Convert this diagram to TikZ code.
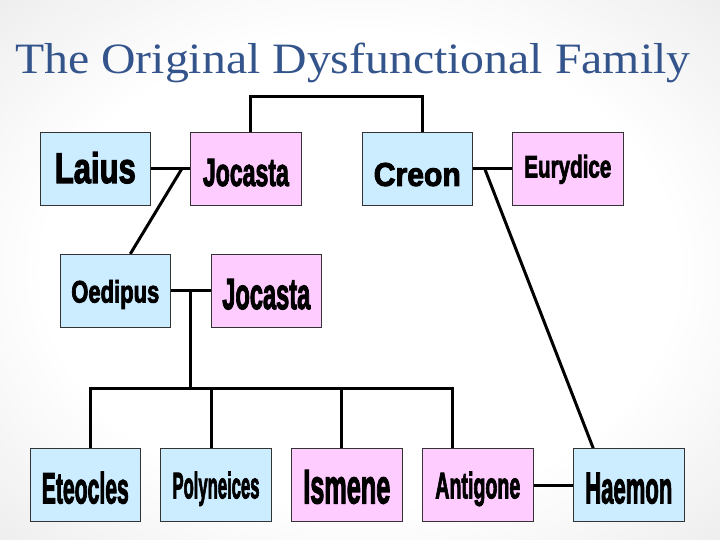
\documentclass[tikz,border=0pt]{standalone}
\usepackage{fontspec}
\usepackage{graphicx}
\setmainfont{Liberation Serif}
\newfontfamily\boxfont{Liberation Sans}[FakeBold=3]
\usetikzlibrary{calc}
\definecolor{bluebox}{RGB}{204,236,255}
\definecolor{pinkbox}{RGB}{255,204,255}
\definecolor{titleblue}{RGB}{52,84,140}
\pgfdeclareradialshading{slidebg}{\pgfpoint{0bp}{0bp}}{color(0bp)=(white); color(22bp)=(white); color(50bp)=(black!14); color(72bp)=(black!17)}
\pgfdeclarelayer{bg}
\pgfdeclarelayer{edges}
\pgfsetlayers{bg,edges,main}
\newcommand{\fitname}[3]{\resizebox{#1pt}{#2pt}{\boxfont\bfseries #3}}
\tikzset{
  person/.style={draw=black!80, line width=0.8pt, minimum width=110.5pt, minimum height=73pt, inner sep=0pt, text depth=0pt},
  male/.style={person, fill=bluebox},
  female/.style={person, fill=pinkbox},
  link/.style={line width=3pt, draw=black}
}
\begin{document}
\begin{tikzpicture}[x=1pt,y=-1pt]
\useasboundingbox (0,0) rectangle (720,540);
\begin{pgfonlayer}{bg}
\shade[shading=slidebg] (0,0) rectangle (720,540);
\end{pgfonlayer}

\node[anchor=base west, text=titleblue, inner sep=0pt] (title) at (15,73.3)
  {\resizebox{675pt}{30.5pt}{The Original Dysfunctional Family}};

% top row
\node[male,   text height=29pt]   (laius) at (95.3,168.5)  {\fitname{81}{31}{Laius}};
\node[female, text height=34.8pt] (joc1)  at (245.9,168.5) {\fitname{86}{27}{Jocasta}};
\node[male,   text height=34.8pt] (creon) at (417.3,168.5) {\fitname{87}{23}{Creon}};
\node[female, text height=17.8pt, minimum width=111pt] (eury) at (567.8,168.5) {\fitname{87}{22.5}{Eurydice}};
% middle row
\node[male,   text height=23.4pt] (oedipus) at (115.3,290.8) {\fitname{88}{22.5}{Oedipus}};
\node[female, text height=36.4pt] (joc2)    at (266.3,290.8) {\fitname{88}{30}{Jocasta}};
% bottom row
\node[male,   text height=36pt] (eteocles)   at (85.3,485.3)  {\fitname{87}{31.6}{Eteocles}};
\node[male,   text height=26pt] (polyneices) at (216,485.3)   {\fitname{87}{26.7}{Polyneices}};
\node[female, text height=36pt] (ismene)     at (346.8,485.3) {\fitname{87}{33.3}{Ismene}};
\node[female, text height=26pt] (antigone)   at (477.8,485.3) {\fitname{85}{26.7}{Antigone}};
\node[male,   text height=36pt] (haemon)     at (628.8,485.3) {\fitname{87}{30.6}{Haemon}};

\begin{pgfonlayer}{edges}
% Laius & Jocasta, Creon & Eurydice, siblings Jocasta & Creon
\draw[link] (laius.east) -- (joc1.west);
\draw[link] ($(joc1.north)+(5,0)$) -- ++(0,-35.4) -| ($(creon.north)+(5,0)$);
\draw[link] (creon.east) -- (eury.west);
\coordinate (lj) at ($(laius.east)!0.79!(joc1.west)$);
\draw[link] (lj) -- ($(oedipus.north)+(15,0)$);
\coordinate (ce) at ($(creon.east)!0.3!(eury.west)$);
\draw[link] (ce) -- ($(haemon.north)+(-35.5,0)$);
% Oedipus & Jocasta and children
\draw[link] (oedipus.east) -- (joc2.west);
\coordinate (oj) at ($(oedipus.east)!0.5!(joc2.west)$);
\coordinate (bus) at ($(oj)+(0,97.5)$);
\draw[link] (oj) -- (bus);
\draw[link] ($(eteocles.north)+(5,0)$) |- (bus) -| ($(antigone.north)+(-25.5,0)$);
\coordinate (pdrop) at ($(polyneices.north)+(-4.7,0)$);
\draw[link] (pdrop) -- (pdrop |- bus);
\coordinate (idrop) at ($(ismene.north)+(-5.5,0)$);
\draw[link] (idrop) -- (idrop |- bus);
% Antigone & Haemon
\draw[link] (antigone.east) -- (haemon.west);
\end{pgfonlayer}
\end{tikzpicture}
\end{document}
